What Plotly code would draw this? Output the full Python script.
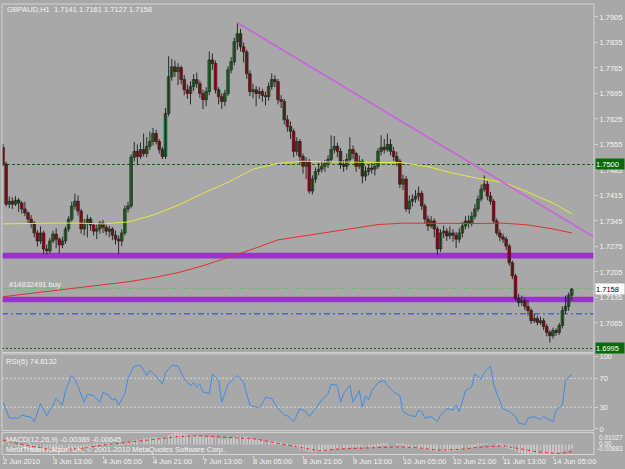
import plotly.graph_objects as go

# ---------------- data ----------------
bar_index = list(range(183))

opens = [
1.7547,1.7501,1.7391,1.7399,1.7391,1.7402,1.7394,1.7378,1.7367,1.7350,
1.7339,1.7312,1.7290,1.7312,1.7268,1.7263,1.7290,1.7309,1.7295,1.7279,
1.7290,1.7323,1.7350,1.7386,1.7399,1.7372,1.7323,1.7339,1.7350,1.7334,
1.7317,1.7323,1.7339,1.7328,1.7317,1.7323,1.7306,1.7295,1.7290,1.7312,
1.7378,1.7386,1.7520,1.7536,1.7522,1.7541,1.7530,1.7550,1.7563,1.7585,
1.7563,1.7541,1.7522,1.7640,1.7741,1.7768,1.7755,1.7766,1.7733,1.7705,
1.7695,1.7714,1.7733,1.7722,1.7695,1.7678,1.7700,1.7787,1.7777,1.7705,
1.7686,1.7673,1.7695,1.7760,1.7782,1.7837,1.7859,1.7823,1.7809,1.7749,
1.7700,1.7705,1.7695,1.7700,1.7689,1.7686,1.7714,1.7733,1.7727,1.7678,
1.7673,1.7623,1.7604,1.7591,1.7536,1.7563,1.7522,1.7495,1.7509,1.7427,
1.7460,1.7481,1.7487,1.7495,1.7503,1.7514,1.7541,1.7550,1.7536,1.7500,
1.7495,1.7514,1.7541,1.7530,1.7495,1.7509,1.7468,1.7481,1.7490,1.7487,
1.7495,1.7536,1.7547,1.7541,1.7555,1.7536,1.7522,1.7509,1.7446,1.7460,
1.7378,1.7399,1.7405,1.7413,1.7421,1.7386,1.7350,1.7331,1.7345,1.7323,
1.7268,1.7312,1.7317,1.7304,1.7312,1.7306,1.7295,1.7312,1.7331,1.7345,
1.7339,1.7358,1.7378,1.7405,1.7432,1.7446,1.7413,1.7399,1.7345,1.7312,
1.7301,1.7295,1.7276,1.7230,1.7194,1.7132,1.7121,1.7126,1.7110,1.7099,
1.7071,1.7077,1.7066,1.7071,1.7055,1.7039,1.7030,1.7044,1.7039,1.7058,
1.7099,1.7110,1.7141]

closes = [
1.7501,1.7391,1.7399,1.7391,1.7402,1.7394,1.7378,1.7367,1.7350,1.7339,
1.7312,1.7290,1.7312,1.7268,1.7263,1.7290,1.7309,1.7295,1.7279,1.7290,
1.7323,1.7350,1.7386,1.7399,1.7372,1.7323,1.7339,1.7350,1.7334,1.7317,
1.7323,1.7339,1.7328,1.7317,1.7323,1.7306,1.7295,1.7290,1.7312,1.7378,
1.7386,1.7520,1.7536,1.7522,1.7541,1.7530,1.7550,1.7563,1.7585,1.7563,
1.7541,1.7522,1.7640,1.7741,1.7768,1.7755,1.7766,1.7733,1.7705,1.7695,
1.7714,1.7733,1.7722,1.7695,1.7678,1.7700,1.7787,1.7777,1.7705,1.7686,
1.7673,1.7695,1.7760,1.7782,1.7837,1.7859,1.7823,1.7809,1.7749,1.7700,
1.7705,1.7695,1.7700,1.7689,1.7686,1.7714,1.7733,1.7727,1.7678,1.7673,
1.7623,1.7604,1.7591,1.7536,1.7563,1.7522,1.7495,1.7509,1.7427,1.7460,
1.7481,1.7487,1.7495,1.7503,1.7514,1.7541,1.7550,1.7536,1.7500,1.7495,
1.7514,1.7541,1.7530,1.7495,1.7509,1.7468,1.7481,1.7490,1.7487,1.7495,
1.7536,1.7547,1.7541,1.7555,1.7536,1.7522,1.7509,1.7446,1.7460,1.7378,
1.7399,1.7405,1.7413,1.7421,1.7386,1.7350,1.7331,1.7345,1.7323,1.7268,
1.7312,1.7317,1.7304,1.7312,1.7306,1.7295,1.7312,1.7331,1.7345,1.7339,
1.7358,1.7378,1.7405,1.7432,1.7446,1.7413,1.7399,1.7345,1.7312,1.7301,
1.7295,1.7276,1.7230,1.7194,1.7132,1.7121,1.7126,1.7110,1.7099,1.7071,
1.7077,1.7066,1.7071,1.7055,1.7039,1.7030,1.7044,1.7039,1.7058,1.7099,
1.7110,1.7141,1.7158]

highs = [
1.7556,1.7508,1.7412,1.7410,1.7413,1.7408,1.7400,1.7398,1.7372,1.7361,
1.7345,1.7320,1.7330,1.7318,1.7280,1.7298,1.7318,1.7325,1.7300,1.7302,
1.7330,1.7358,1.7398,1.7420,1.7415,1.7378,1.7350,1.7362,1.7356,1.7340,
1.7335,1.7345,1.7348,1.7335,1.7332,1.7328,1.7318,1.7305,1.7322,1.7388,
1.7398,1.7528,1.7562,1.7555,1.7560,1.7585,1.7575,1.7590,1.7600,1.7595,
1.7570,1.7548,1.7655,1.7797,1.7790,1.7785,1.7778,1.7772,1.7745,1.7720,
1.7728,1.7748,1.7752,1.7730,1.7705,1.7712,1.7810,1.7805,1.7785,1.7712,
1.7695,1.7705,1.7770,1.7795,1.7848,1.7889,1.7872,1.7835,1.7815,1.7758,
1.7722,1.7715,1.7712,1.7708,1.7700,1.7725,1.7750,1.7745,1.7735,1.7690,
1.7680,1.7635,1.7618,1.7598,1.7575,1.7570,1.7530,1.7520,1.7515,1.7470,
1.7492,1.7505,1.7510,1.7512,1.7525,1.7580,1.7578,1.7560,1.7545,1.7512,
1.7530,1.7575,1.7552,1.7535,1.7525,1.7515,1.7495,1.7500,1.7505,1.7508,
1.7545,1.7580,1.7570,1.7585,1.7570,1.7548,1.7535,1.7515,1.7472,1.7468,
1.7415,1.7418,1.7430,1.7440,1.7428,1.7392,1.7360,1.7358,1.7352,1.7330,
1.7322,1.7332,1.7325,1.7330,1.7322,1.7315,1.7325,1.7342,1.7358,1.7360,
1.7370,1.7392,1.7415,1.7445,1.7470,1.7455,1.7425,1.7405,1.7352,1.7322,
1.7310,1.7302,1.7282,1.7236,1.7200,1.7145,1.7140,1.7135,1.7128,1.7105,
1.7090,1.7085,1.7082,1.7078,1.7062,1.7045,1.7052,1.7050,1.7065,1.7110,
1.7140,1.7148,1.7161]

lows = [
1.7495,1.7385,1.7380,1.7378,1.7386,1.7370,1.7365,1.7358,1.7340,1.7326,
1.7300,1.7275,1.7282,1.7254,1.7252,1.7255,1.7284,1.7270,1.7256,1.7270,
1.7282,1.7315,1.7343,1.7376,1.7360,1.7310,1.7305,1.7300,1.7318,1.7305,
1.7295,1.7310,1.7312,1.7305,1.7300,1.7292,1.7280,1.7254,1.7276,1.7305,
1.7368,1.7380,1.7508,1.7498,1.7515,1.7522,1.7520,1.7540,1.7552,1.7555,
1.7530,1.7515,1.7515,1.7632,1.7730,1.7740,1.7718,1.7720,1.7690,1.7680,
1.7665,1.7702,1.7710,1.7682,1.7652,1.7660,1.7690,1.7760,1.7695,1.7665,
1.7652,1.7660,1.7688,1.7750,1.7772,1.7815,1.7810,1.7780,1.7735,1.7688,
1.7682,1.7660,1.7680,1.7672,1.7662,1.7675,1.7705,1.7712,1.7665,1.7655,
1.7610,1.7590,1.7570,1.7520,1.7525,1.7500,1.7475,1.7460,1.7420,1.7418,
1.7450,1.7470,1.7478,1.7480,1.7490,1.7505,1.7530,1.7520,1.7488,1.7480,
1.7485,1.7505,1.7515,1.7480,1.7488,1.7448,1.7455,1.7470,1.7475,1.7470,
1.7488,1.7525,1.7530,1.7535,1.7525,1.7510,1.7495,1.7435,1.7430,1.7370,
1.7365,1.7385,1.7395,1.7400,1.7375,1.7338,1.7318,1.7325,1.7300,1.7252,
1.7260,1.7298,1.7290,1.7295,1.7288,1.7270,1.7285,1.7300,1.7322,1.7325,
1.7330,1.7350,1.7370,1.7398,1.7425,1.7402,1.7390,1.7338,1.7305,1.7290,
1.7285,1.7265,1.7222,1.7185,1.7125,1.7110,1.7112,1.7100,1.7085,1.7062,
1.7065,1.7058,1.7060,1.7045,1.7028,1.7011,1.7022,1.7030,1.7032,1.7050,
1.7090,1.7098,1.7127]

# moving averages (sampled every 8 bars)
ma_index = [0,8,16,24,32,40,48,56,64,72,80,88,96,104,112,120,128,136,144,152,160,168,176,182]
ma_yellow = [1.7337,1.7339,1.7339,1.7339,1.7337,1.7342,1.7361,1.7388,1.7421,1.7451,1.7487,1.7503,
             1.7509,1.7507,1.7506,1.7506,1.7505,1.7494,1.7476,1.7462,1.7451,1.7424,1.7394,1.7365]
ma_red = [1.7137,1.7145,1.7153,1.7162,1.7170,1.7178,1.7189,1.7203,1.7222,1.7244,1.7268,1.7293,
          1.7304,1.7315,1.7326,1.7335,1.7339,1.7338,1.7337,1.7338,1.7339,1.7334,1.7323,1.7312]

# trend line (bar index, price)
trend_index = [75, 189.1]
trend_price = [1.7889, 1.7301]

# horizontal levels
level_green = 1.7500
level_order = 1.7160
level_blue = 1.7090
level_stop = 1.6995
bands = [(1.7242, 1.7258), (1.7122, 1.7137)]
bid_price = 1.7158

# RSI(6)
rsi_index = [0,2,5,6,9,10,12,14,16,17,19,20,22,23,26,27,29,31,32,34,35,36,37,39,40,42,44,46,47,49,
             51,52,54,56,58,60,61,62,63,64,66,67,69,70,72,75,77,79,81,82,83,84,86,88,90,91,93,95,97,98,
             100,102,104,105,107,108,109,111,112,114,115,116,117,118,120,122,123,125,127,128,130,132,133,134,135,137,139,140,142,144,
             145,146,148,150,151,153,154,156,157,158,160,162,164,165,167,168,170,172,173,175,176,177,179,180,181,182]
rsi_vals = [37,15,15,19,16,10,35,18,33,42,33,53,74,69,37,48,46,37,51,46,40,42,33,49,71,87,88,74,81,73,
            62,78,88,87,69,60,64,58,62,51,49,76,67,37,62,74,64,33,30,30,35,44,42,28,19,18,10,28,24,17,
            28,40,49,62,60,37,49,60,37,53,30,46,40,53,64,67,60,51,46,24,19,17,26,24,15,17,10,19,28,26,
            33,24,53,58,76,69,78,87,62,49,28,24,17,8,6,15,17,13,17,13,10,26,33,67,72,74.8]

# MACD(12,26,9)
macd_main = [
0.0010,0.0000,-0.0010,-0.0018,-0.0024,-0.0030,-0.0036,-0.0042,-0.0048,-0.0053,
-0.0060,-0.0066,-0.0066,-0.0071,-0.0074,-0.0072,-0.0068,-0.0066,-0.0066,-0.0063,
-0.0056,-0.0046,-0.0034,-0.0024,-0.0022,-0.0025,-0.0024,-0.0021,-0.0016,-0.0015,
-0.0012,-0.0009,-0.0008,-0.0007,-0.0006,-0.0007,-0.0008,-0.0009,-0.0006,0.0002,
0.0008,0.0022,0.0034,0.0042,0.0049,0.0053,0.0057,0.0060,0.0063,0.0063,
0.0060,0.0058,0.0066,0.0080,0.0090,0.0098,0.0103,0.0100,0.0094,0.0088,
0.0083,0.0080,0.0076,0.0070,0.0064,0.0060,0.0064,0.0066,0.0060,0.0054,
0.0048,0.0045,0.0048,0.0054,0.0063,0.0072,0.0075,0.0074,0.0068,0.0058,
0.0050,0.0043,0.0038,0.0032,0.0027,0.0026,0.0027,0.0027,0.0022,0.0016,
0.0006,-0.0004,-0.0013,-0.0025,-0.0031,-0.0040,-0.0049,-0.0054,-0.0065,-0.0068,
-0.0068,-0.0067,-0.0064,-0.0060,-0.0055,-0.0048,-0.0041,-0.0037,-0.0037,-0.0036,
-0.0033,-0.0027,-0.0024,-0.0025,-0.0024,-0.0027,-0.0027,-0.0026,-0.0025,-0.0023,
-0.0017,-0.0011,-0.0007,-0.0002,0.0000,0.0000,-0.0002,-0.0010,-0.0014,-0.0024,
-0.0029,-0.0032,-0.0034,-0.0035,-0.0039,-0.0045,-0.0051,-0.0053,-0.0056,-0.0063,
-0.0063,-0.0062,-0.0061,-0.0059,-0.0057,-0.0056,-0.0052,-0.0047,-0.0041,-0.0036,
-0.0030,-0.0022,-0.0013,-0.0004,0.0004,0.0006,0.0006,0.0000,-0.0008,-0.0016,
-0.0022,-0.0029,-0.0039,-0.0050,-0.0064,-0.0074,-0.0081,-0.0086,-0.0088,-0.0088,
-0.0087,-0.0086,-0.0084,-0.0084,-0.0085,-0.0085,-0.0082,-0.0079,-0.0073,-0.0064,
-0.0055,-0.0046,-0.0039]
signal_index = [0,7,16,25,32,41,50,56,63,69,76,81,88,96,101,107,114,120,127,133,139,146,152,160,165,171,178,182]
signal_vals = [0.0038,-0.0006,-0.0050,-0.0035,-0.0006,0.0023,0.0047,0.0067,0.0076,0.0067,0.0058,0.0047,0.0009,
               -0.0035,-0.0056,-0.0041,-0.0035,-0.0030,-0.0021,-0.0030,-0.0050,-0.0044,-0.0026,-0.0012,
               -0.0035,-0.0065,-0.0080,-0.00645]

price_ticks = [1.7905,1.7835,1.7765,1.7695,1.7625,1.7555,1.7485,1.7415,1.7345,1.7275,1.7205,1.7135,1.7065]
rsi_ticks = [0, 30, 70, 100]
date_tick_index = [0,16,32,48,64,80,96,112,128,144,160,176]
date_tick_text = ["2 Jun 2010","3 Jun 13:00","4 Jun 05:00","4 Jun 21:00","7 Jun 13:00","8 Jun 05:00",
                  "8 Jun 21:00","9 Jun 13:00","10 Jun 05:00","10 Jun 21:00","11 Jun 13:00","14 Jun 05:00"]

# ---------------- layout helpers ----------------
W, H = 625, 469
ML, MR, MT, MB = 2, 31, 2, 14
PW = W - ML - MR
PH = H - MT - MB

def px(xp):
    return (xp - ML) / PW

def py(yp):
    return (H - MB - yp) / PH

BG = "#A8A8A8"
TXT = "#F4F4F4"
FONT = "Liberation Sans"
FS = 7.5
FRAME = "#D4D4D4"

fig = go.Figure()

# candle wicks
wx, wy = [], []
for i, h, l in zip(bar_index, highs, lows):
    wx += [i, i, None]
    wy += [h, l, None]
fig.add_trace(go.Scatter(x=wx, y=wy, mode="lines", line=dict(color="#2a2a2a", width=1),
                         hoverinfo="skip", showlegend=False))

# candle bodies
for up, fill in ((True, "#1F8F1F"), (False, "#C00000")):
    bx, bbase, bh = [], [], []
    for i, o, c in zip(bar_index, opens, closes):
        if (c >= o) == up:
            bx.append(i)
            bbase.append(min(o, c))
            bh.append(max(abs(c - o), 0.00025))
    fig.add_trace(go.Bar(x=bx, y=bh, base=bbase, width=0.85, xaxis="x", yaxis="y",
                         marker=dict(color=fill, line=dict(color="#141414", width=0.6)),
                         hoverinfo="skip", showlegend=False))

fig.add_trace(go.Scatter(x=ma_index, y=ma_yellow, mode="lines",
                         line=dict(color="#E8E83A", width=1), hoverinfo="skip", showlegend=False))
fig.add_trace(go.Scatter(x=ma_index, y=ma_red, mode="lines",
                         line=dict(color="#E03030", width=1), hoverinfo="skip", showlegend=False))
fig.add_trace(go.Scatter(x=trend_index, y=trend_price, mode="lines",
                         line=dict(color="#C864DC", width=1.6), hoverinfo="skip", showlegend=False))

fig.add_trace(go.Scatter(x=rsi_index, y=rsi_vals, mode="lines", xaxis="x", yaxis="y2",
                         line=dict(color="#3C8CE6", width=1), hoverinfo="skip", showlegend=False))

fig.add_trace(go.Bar(x=bar_index, y=macd_main, xaxis="x", yaxis="y3", width=0.3,
                     marker=dict(color="#C6C6C6", line=dict(width=0)), hoverinfo="skip", showlegend=False))
fig.add_trace(go.Scatter(x=signal_index, y=signal_vals, mode="lines", xaxis="x", yaxis="y3",
                         line=dict(color="#FF2020", width=1, dash="dot"), hoverinfo="skip", showlegend=False))

shapes = []
for lo, hi in bands:
    shapes.append(dict(type="rect", xref="paper", x0=0, x1=1, yref="y", y0=lo, y1=hi,
                       fillcolor="#9A32CC", line=dict(width=0), layer="below"))
shapes.append(dict(type="line", xref="paper", x0=0, x1=1, yref="y", y0=level_green, y1=level_green,
                   line=dict(color="#0A6A0A", width=1, dash="3px,2px"), layer="below"))
shapes.append(dict(type="line", xref="paper", x0=0, x1=1, yref="y", y0=level_order, y1=level_order,
                   line=dict(color="#62C062", width=1, dash="6px,3px,2px,3px"), layer="below"))
shapes.append(dict(type="line", xref="paper", x0=0, x1=1, yref="y", y0=level_blue, y1=level_blue,
                   line=dict(color="#3040C8", width=1, dash="6px,3px,2px,3px"), layer="below"))
shapes.append(dict(type="line", xref="paper", x0=0, x1=1, yref="y", y0=level_stop, y1=level_stop,
                   line=dict(color="#0A6A0A", width=1, dash="2px,2px"), layer="below"))
for lv in (70, 30):
    shapes.append(dict(type="line", xref="paper", x0=0, x1=1, yref="y2", y0=lv, y1=lv,
                       line=dict(color="#D8D8D8", width=1, dash="2px,2px"), layer="below"))
for top, bot in ((2, 352), (353.5, 430.5), (432.5, 454.5)):
    shapes.append(dict(type="rect", xref="paper", yref="paper", x0=0, x1=1, y0=py(bot), y1=py(top),
                       line=dict(color=FRAME, width=1), fillcolor="rgba(0,0,0,0)", layer="above"))

ann = []
def txt(x, y, s, size=FS, **kw):
    d = dict(xref="paper", yref="paper", x=px(x), y=py(y), text=s, showarrow=False,
             xanchor="left", yanchor="middle", font=dict(family=FONT, size=size, color=TXT))
    d.update(kw)
    ann.append(d)

txt(5, 8, "GBPAUD,H1  1.7141 1.7161 1.7127 1.7158")
txt(7, 284, "#14832491 buy")
txt(4, 361, "RSI(6) 74.8132")
txt(4, 439, "MACD(12,26,9) -0.00389 -0.00645")
txt(4, 449, "MetaTrader - Alpari UK, © 2001-2010 MetaQuotes Software Corp.")
txt(597, 437.2, "0.01027", size=6.5)
txt(597, 443.4, "0.00", size=6.5)
txt(595, 448.6, "-0.00883", size=6.5)

for i, s in zip(date_tick_index, date_tick_text):
    ann.append(dict(xref="x", yref="paper", x=i, y=py(462), text=s, showarrow=False,
                    xanchor="left", yanchor="middle", xshift=-2,
                    font=dict(family=FONT, size=FS, color=TXT)))

def price_box(val, bg, fg):
    ann.append(dict(xref="paper", yref="y", x=1, y=val, text=f"{val:.4f}", showarrow=False,
                    xanchor="left", yanchor="middle", xshift=1, width=28, height=10, align="left",
                    bgcolor=bg, borderpad=0, font=dict(family=FONT, size=FS, color=fg)))

price_box(level_green, "#0A6A0A", "#FFFFFF")
price_box(bid_price, "#FFFFFF", "#000000")
price_box(level_stop, "#0A6A0A", "#FFFFFF")

axis_common = dict(showgrid=False, zeroline=False, showline=False,
                   tickfont=dict(family=FONT, size=FS, color=TXT),
                   ticks="outside", ticklen=3, tickcolor=FRAME)

fig.update_layout(
    width=W, height=H,
    margin=dict(l=ML, r=MR, t=MT, b=MB),
    paper_bgcolor=BG, plot_bgcolor=BG,
    showlegend=False, hovermode=False,
    shapes=shapes, annotations=ann,
    barmode="overlay",
    xaxis=dict(range=[-0.32, 189.12], anchor="y3", showgrid=False, zeroline=False,
               showline=False, tickvals=date_tick_index, showticklabels=False,
               ticks="outside", ticklen=3, tickcolor=FRAME),
    yaxis=dict(domain=[py(352), 1], range=[1.69840, 1.79405], side="right", anchor="x",
               tickvals=price_ticks, ticktext=[f"{v:.4f}" for v in price_ticks], **axis_common),
    yaxis2=dict(domain=[py(430.5), py(353.5)], range=[-2.4, 103.8], side="right", anchor="x",
                tickvals=rsi_ticks, **axis_common),
    yaxis3=dict(domain=[py(454.5), py(432.5)], range=[-0.00883, 0.01027], side="right", anchor="x",
                showticklabels=False, showgrid=False, zeroline=False, showline=False),
)

fig.write_html("out.html")
